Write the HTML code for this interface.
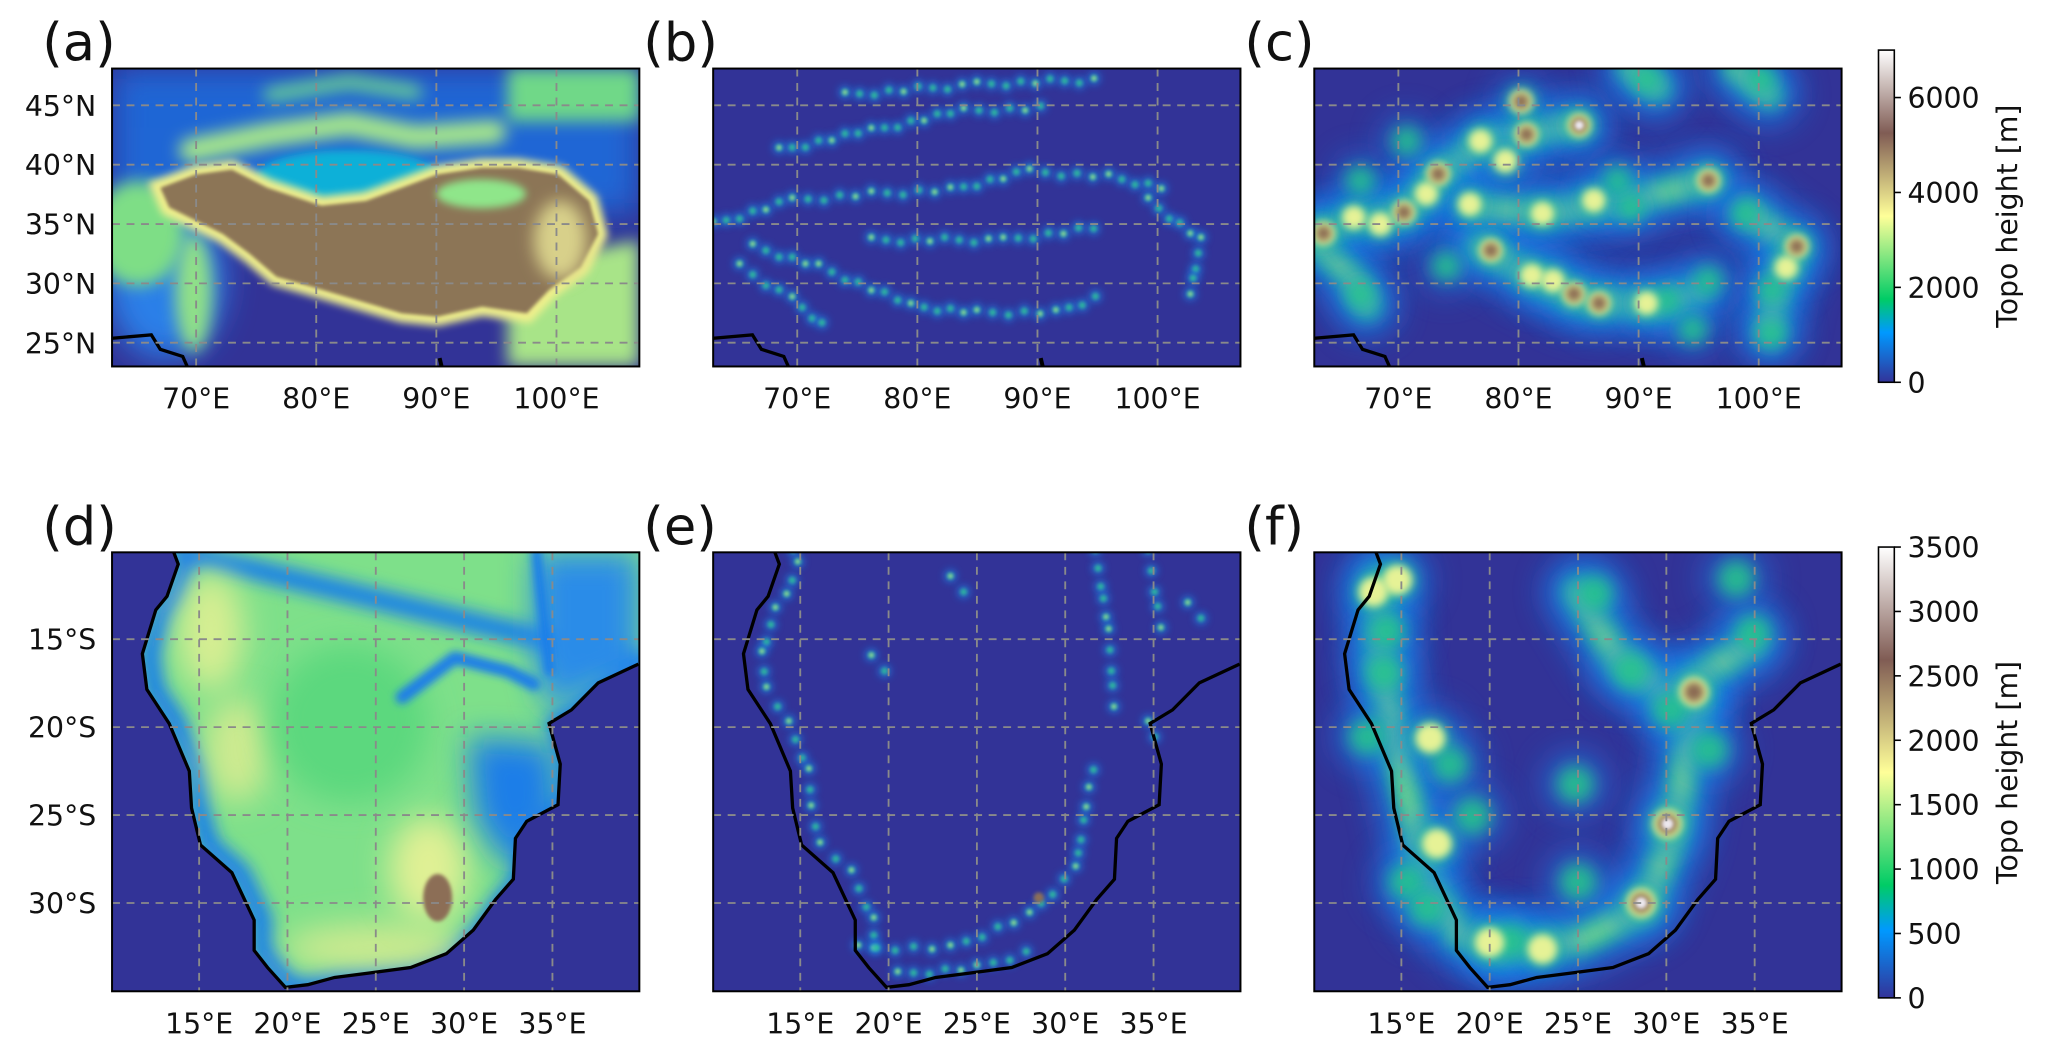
<!DOCTYPE html>
<html><head><meta charset="utf-8"><style>
html,body{margin:0;padding:0;background:#fff;width:2067px;height:1051px;overflow:hidden}
svg{display:block}
text{font-family:"DejaVu Sans","Liberation Sans",sans-serif;fill:#111}
</style></head><body>
<svg id="fig" width="2067" height="1051" viewBox="0 0 1568 797.3" preserveAspectRatio="none" xmlns="http://www.w3.org/2000/svg">
<defs>
<filter id="b1" filterUnits="userSpaceOnUse" x="-100" y="-100" width="600" height="550"><feGaussianBlur stdDeviation="1.5"/></filter>
<filter id="b3" filterUnits="userSpaceOnUse" x="-100" y="-100" width="600" height="550"><feGaussianBlur stdDeviation="3"/></filter>
<filter id="b6" filterUnits="userSpaceOnUse" x="-100" y="-100" width="600" height="550"><feGaussianBlur stdDeviation="6"/></filter>
<filter id="b12" filterUnits="userSpaceOnUse" x="-100" y="-100" width="600" height="550"><feGaussianBlur stdDeviation="12"/></filter>
<linearGradient id="terrain" x1="0" y1="1" x2="0" y2="0">
<stop offset="0" stop-color="#333399"/><stop offset="0.15" stop-color="#0099ff"/><stop offset="0.25" stop-color="#00cc66"/><stop offset="0.5" stop-color="#ffff99"/><stop offset="0.75" stop-color="#805c54"/><stop offset="1" stop-color="#ffffff"/>
</linearGradient>
<clipPath id="pc"><rect x="0" y="0" width="400" height="226"/></clipPath>
<clipPath id="pc2"><rect x="0" y="0" width="400" height="333"/></clipPath>
</defs>
<g id="root"></g>
</svg>
<script>
// ---- axis data ----
const row1LonTicks=[70,80,90,100];
const row1LonLabels=["70°E","80°E","90°E","100°E"];
const row1LatTicks=[45,40,35,30,25];
const row1LatLabels=["45°N","40°N","35°N","30°N","25°N"];
const row2LonTicks=[15,20,25,30,35];
const row2LonLabels=["15°E","20°E","25°E","30°E","35°E"];
const row2LatTicks=[-15,-20,-25,-30];
const row2LatLabels=["15°S","20°S","25°S","30°S"];
const cb1Ticks=[0,2000,4000,6000];
const cb2Ticks=[0,500,1000,1500,2000,2500,3000,3500];
const cb1Max=7000, cb2Max=3500;
const panelLabels=["(a)","(b)","(c)","(d)","(e)","(f)"];

const NS="http://www.w3.org/2000/svg";
const root=document.getElementById('root');
function mk(tag,attrs,parent){const e=document.createElementNS(NS,tag);for(const k in attrs)e.setAttribute(k,attrs[k]);(parent||root).appendChild(e);return e;}

const W=400,H1=226,H2=333;
const colX=[85,541,997];
const rowY=[52,419];
const r1={L:63,R:63+43.9,T:48.1,B:48.1-25.1};
const r2={L:10.07,R:10.07+29.85,T:-10.06,B:-10.06-24.96};
function xs(ax,lon){return (lon-ax.L)/(ax.R-ax.L)*W;}
function ys(ax,lat,h){return (ax.T-lat)/(ax.T-ax.B)*h;}

const OCEAN="#323397";
function pts(a){return a.map(p=>p.join(',')).join(' ');}

const plateau=[[63.7,80.3],[90.9,76.6],[118,90.4],[158.7,104],[192.6,100.4],[219.7,90.4],[246.8,80.3],[280.7,75.3],[307.8,75.3],[338.3,80.3],[362,100.4],[368.8,125.5],[355.3,150.6],[331.5,168],[314.6,185.7],[280.7,180.7],[246.8,188.3],[219.7,185.7],[185.8,175.7],[151.9,165.7],[124.8,158],[104.4,140.6],[84,125.5],[63.7,115.5],[43.4,105.4],[36.6,90.4]];
const asiaCoast=[[0,204.6],[29.8,202],[36.6,213],[53.6,218.4],[57,226]];
const asiaCoast2=[[248.5,219.6],[250,226]];
const afCoast=[[46.8,0],[50.2,9],[41.7,33.4],[33.2,43.7],[23,77],[26.4,104],[43.4,130],[58.6,166],[60.3,194],[67.1,222],[90.9,243],[107.8,279],[107.8,302],[118,315],[131.5,330],[148.5,328],[168.8,322.5],[196,319],[226.5,315],[253.6,304.5],[274,286.6],[290.9,263.4],[304.4,248],[306,217],[314.6,204],[338.3,191.5],[340,160.6],[335,142.6],[331.5,129.8],[348.5,119.5],[368.8,99],[399.3,84.8]];

function panel(i,row){
  const g=mk('g',{transform:`translate(${colX[i]},${rowY[row]})`});
  
  
  const h=row?H2:H1;
  const inner=mk('g',{'clip-path':row?'url(#pc2)':'url(#pc)'},g);
  mk('rect',{x:0,y:0,width:W,height:h,fill:OCEAN},inner);
  return {g,inner,h};
}
function blob(parent,x,y,r,col,f,op){mk('ellipse',{cx:x,cy:y,rx:r,ry:r,fill:col,filter:'url(#'+f+')',opacity:op==null?1:op},parent);}
function band(parent,line,w,col,f,op){mk('polyline',{points:pts(line),fill:'none',stroke:col,'stroke-width':w,'stroke-linecap':'round','stroke-linejoin':'round',filter:'url(#'+f+')',opacity:op==null?1:op},parent);}

function grid(p,ax,lonT,latT){
  const gg=mk('g',{},p.g);
  
  
  lonT.forEach(v=>{const x=xs(ax,v);mk('line',{x1:x,x2:x,y1:0,y2:p.h,stroke:'#8a8a8a','stroke-width':1.4,'stroke-dasharray':'6,5'},gg);});
  latT.forEach(v=>{const y=ys(ax,v,p.h);mk('line',{x1:0,x2:W,y1:y,y2:y,stroke:'#8a8a8a','stroke-width':1.4,'stroke-dasharray':'6,5'},gg);});
  mk('rect',{x:0,y:0,width:W,height:p.h,fill:'none',stroke:'#000','stroke-width':1.5},p.g);
}
function ticks(p,ax,lonT,lonL,latT,latL,showLat){
  lonT.forEach((v,k)=>{const t=mk('text',{x:xs(ax,v),y:p.h+32,'text-anchor':'middle','font-size':21.5},p.g);t.textContent=lonL[k];
    });
  if(showLat)latT.forEach((v,k)=>{const t=mk('text',{x:-12,y:ys(ax,v,p.h)+8,'text-anchor':'end','font-size':21.5},p.g);t.textContent=latL[k];
    });
}
function plabel(p,s){const t=mk('text',{x:-53,y:-6,'font-size':40},p.g);t.textContent=s;
  }

// ===== Panel (a) =====
let p=panel(0,0);let c=p.inner;
mk('rect',{x:0,y:0,width:400,height:110,fill:'#1f6fe0',filter:'url(#b12)',opacity:0.85},c);
mk('ellipse',{cx:40,cy:160,rx:45,ry:60,fill:'#2a7fe8',filter:'url(#b12)'},c);
mk('rect',{x:300,y:0,width:100,height:40,fill:'#6fd888',filter:'url(#b6)'},c);
band(c,[[60,62],[120,50],[180,42],[230,52],[290,48]],18,'#a8e88a','b6');
band(c,[[120,20],[180,10],[230,18]],10,'#70d890','b6');
mk('ellipse',{cx:179,cy:82,rx:70,ry:20,fill:'#10b0d8',filter:'url(#b3)'},c);
mk('ellipse',{cx:20,cy:125,rx:35,ry:40,fill:'#7ede86',filter:'url(#b6)'},c);
mk('ellipse',{cx:62,cy:170,rx:14,ry:45,fill:'#90e088',filter:'url(#b6)'},c);
mk('polygon',{points:'300,150 400,130 400,226 300,226',fill:'#a8e488',filter:'url(#b6)'},c);
mk('polygon',{points:pts(plateau),fill:'none',stroke:'#f0f08c','stroke-width':14,filter:'url(#b3)'},c);
mk('polygon',{points:pts(plateau),fill:'#8c7557',filter:'url(#b1)'},c);
mk('ellipse',{cx:280,cy:95,rx:34,ry:11,fill:'#8fe68a',filter:'url(#b3)'},c);
mk('ellipse',{cx:340,cy:130,rx:20,ry:30,fill:'#d8d08a',filter:'url(#b6)'},c);
mk('polyline',{points:pts(asiaCoast),fill:'none',stroke:'#000','stroke-width':2.5},c);
mk('polyline',{points:pts(asiaCoast2),fill:'none',stroke:'#000','stroke-width':3},c);
grid(p,r1,row1LonTicks,row1LatTicks);ticks(p,r1,row1LonTicks,row1LonLabels,row1LatTicks,row1LatLabels,true);plabel(p,panelLabels[0]);

// ===== Panel (b) =====
const bRidges=[
 [[30,135],[80,150],[150,180],[200,185],[260,185],[300,170]],
 [[0,118],[60,100],[120,95],[180,92],[240,78],[300,82],[350,92]],
 [[50,62],[120,47],[190,32],[260,30]],
 [[100,20],[200,12],[300,8]],
 [[330,100],[370,130],[360,180]],
 [[120,130],[220,130],[300,120]],
 [[20,150],[60,175],[90,200]]];
p=panel(1,0);c=p.inner;
function ridgeDots(parent,lines,step,r){lines.forEach(l=>{for(let k=0;k<l.length-1;k++){const[a,b]=[l[k],l[k+1]];const d=Math.hypot(b[0]-a[0],b[1]-a[1]);const n=Math.max(1,Math.round(d/step));for(let j=0;j<n;j++){const t=j/n;const x=a[0]+(b[0]-a[0])*t,y=a[1]+(b[1]-a[1])*t+((j*7)%5-2);
  blob(parent,x,y,r*1.8,'#1a8cf0','b3',0.7);blob(parent,x,y,r,'#30d090','b1',0.75);if(j%4==0)blob(parent,x,y,r*0.5,'#f0f090','b1',0.9);}}});}
ridgeDots(c,bRidges,11,2.6);
mk('polyline',{points:pts(asiaCoast),fill:'none',stroke:'#000','stroke-width':2.5},c);
mk('polyline',{points:pts(asiaCoast2),fill:'none',stroke:'#000','stroke-width':3},c);
grid(p,r1,row1LonTicks,row1LatTicks);ticks(p,r1,row1LonTicks,row1LonLabels,row1LatTicks,row1LatLabels,false);plabel(p,panelLabels[1]);

// ===== Panel (c) =====
const cBands=[
 [[0,125],[40,112],[70,108],[95,80],[130,55],[165,48],[200,42]],
 [[120,105],[175,110],[240,100],[300,85]],
 [[125,135],[165,157],[200,175],[260,180],[290,170]],
 [[330,110],[365,135],[350,170],[345,200]],
 [[0,130],[30,160],[40,180]],
 [[240,0],[260,15]],[[320,0],[345,20]]];
const cBlobs=[[7,125,3],[30,113,2],[68,109,3],[94,80,3],[118,103,2],[134,138,3],[157,25,3],[161,50,3],[126,55,2],[201,43,4],[197,171,3],[216,178,3],[252,178,2],[268,176,1],[173,110,2],[212,100,2],[240,105,1],[299,85,3],[366,135,3],[358,151,2],[347,168,1],[327,110,1],[252,8,1],[339,8,1],[35,85,1],[70,55,1],[35,171,1],[287,198,1],[347,201,1],[165,157,2],[181,161,2],[299,161,1],[100,150,1],[230,85,1],[145,70,2],[50,118,2],[85,95,2]];
p=panel(2,0);c=p.inner;
function drawBands(parent,arr,s){
 arr.forEach(l=>band(parent,l,46*s,'#1b7fe8','b12',0.8));
 arr.forEach(l=>band(parent,l,22*s,'#28c888','b6',0.85));
 arr.forEach(l=>band(parent,l,8*s,'#c8ec8e','b6',0.7));
}
function drawBlobs(parent,arr,s){
 arr.forEach(b=>{blob(parent,b[0],b[1],20*s,'#1b7fe8','b12',0.6);});
 arr.forEach(b=>{blob(parent,b[0],b[1],11*s,'#25c888','b6',0.85);});
 arr.forEach(b=>{if(b[2]>=2)blob(parent,b[0],b[1],9*s,'#e6f296','b3');});
 arr.forEach(b=>{if(b[2]>=3)blob(parent,b[0],b[1],6*s,'#8a6a52','b3');});
 arr.forEach(b=>{if(b[2]>=4)blob(parent,b[0],b[1],3.5*s,'#ece8ee','b1');});
}
drawBands(c,cBands,1);
drawBlobs(c,cBlobs,1);
mk('polyline',{points:pts(asiaCoast),fill:'none',stroke:'#000','stroke-width':2.5},c);
mk('polyline',{points:pts(asiaCoast2),fill:'none',stroke:'#000','stroke-width':3},c);
grid(p,r1,row1LonTicks,row1LatTicks);ticks(p,r1,row1LonTicks,row1LonLabels,row1LatTicks,row1LatLabels,false);plabel(p,panelLabels[2]);

// ===== Panel (d) =====
p=panel(0,1);c=p.inner;
const land=afCoast.concat([[400,84.8],[400,0]]);
const lg=mk('g',{},c);
mk('clipPath',{id:'landclip'},root).appendChild((()=>{const e=document.createElementNS(NS,'polygon');e.setAttribute('points',pts(land));return e;})());
lg.setAttribute('clip-path','url(#landclip)');
mk('rect',{x:0,y:0,width:400,height:333,fill:'#7ee08a'},lg);
mk('polygon',{points:pts(afCoast.map(q=>[q[0]+6,q[1]])),fill:'none',stroke:'#1a80e8','stroke-width':16,filter:'url(#b6)'},lg);
mk('ellipse',{cx:75,cy:60,rx:25,ry:45,fill:'#d6ee92',filter:'url(#b12)'},lg);
mk('ellipse',{cx:95,cy:150,rx:25,ry:40,fill:'#cdea90',filter:'url(#b12)'},lg);
mk('ellipse',{cx:200,cy:300,rx:70,ry:18,fill:'#cdea90',filter:'url(#b12)'},lg);
mk('ellipse',{cx:240,cy:240,rx:30,ry:40,fill:'#e0f094',filter:'url(#b12)'},lg);
mk('ellipse',{cx:180,cy:130,rx:60,ry:60,fill:'#5cd87e',filter:'url(#b12)'},lg);
mk('polygon',{points:'270,140 335,145 340,200 300,240 275,200',fill:'#1e7ee8',filter:'url(#b12)'},lg);
mk('polygon',{points:'320,0 400,0 400,90 330,120 320,80',fill:'#2a8ce8',filter:'url(#b12)'},lg);
band(lg,[[220,110],[260,80],[300,90],[320,100]],10,'#1e7ee8','b3');
band(lg,[[322,0],[332,90]],8,'#1e7ee8','b3');
mk('ellipse',{cx:247,cy:262,rx:11,ry:18,fill:'#8c6e56',filter:'url(#b1)'},lg);
mk('polyline',{points:pts(afCoast),fill:'none',stroke:'#000','stroke-width':2.5},c);
grid(p,r2,row2LonTicks,row2LatTicks);ticks(p,r2,row2LonTicks,row2LonLabels,row2LatTicks,row2LatLabels,true);plabel(p,panelLabels[3]);

// ===== Panel (e) =====
const eRidges=[
 afCoast.slice(0,14).map(q=>[q[0]+14,q[1]]),
 [[290,0],[300,60],[305,130]],[[330,0],[342,70]],[[360,40],[380,60]],
 [[110,300],[180,300],[240,275],[275,240],[285,180],[292,150]],
 [[140,320],[200,315],[250,300]],[[180,20],[200,40]],[[120,80],[140,100]],[[330,130],[340,150]]];
p=panel(1,1);c=p.inner;
ridgeDots(c,eRidges,13,2.6);
blob(c,247,262,4,'#8c6e56','b1');
mk('polyline',{points:pts(afCoast),fill:'none',stroke:'#000','stroke-width':2.5},c);
grid(p,r2,row2LonTicks,row2LatTicks);ticks(p,r2,row2LonTicks,row2LonLabels,row2LatTicks,row2LatLabels,false);plabel(p,panelLabels[4]);

// ===== Panel (f) =====
const fBands=[
 [[50,20],[50,80],[60,140],[75,200],[85,250],[110,290],[140,300]],
 [[140,300],[200,295],[250,270],[270,220],[280,170],[290,110]],
 [[200,30],[230,80],[270,110],[330,70]]];
const fBlobs=[[45,30,2],[55,60,1],[53,91,1],[63,21,2],[40,140,1],[88,141,2],[103,161,1],[93,221,2],[70,250,1],[85,270,1],[133,296,2],[173,301,2],[150,295,1],[198,176,1],[213,31,1],[288,106,3],[333,61,1],[268,206,4],[248,266,4],[270,120,1],[300,150,1],[240,90,1],[320,20,1],[120,200,1],[200,250,1]];
p=panel(2,1);c=p.inner;
drawBands(c,fBands,1.1);
drawBlobs(c,fBlobs,1.25);
mk('polyline',{points:pts(afCoast),fill:'none',stroke:'#000','stroke-width':2.5},c);
grid(p,r2,row2LonTicks,row2LatTicks);ticks(p,r2,row2LonTicks,row2LonLabels,row2LatTicks,row2LatLabels,false);plabel(p,panelLabels[5]);

// ===== Colorbars =====
function colorbar(x,y0,y1,max,tk,name){
 const g=mk('g',{});
 
 
 mk('rect',{x:x,y:y0,width:12,height:y1-y0,fill:'url(#terrain)',stroke:'#000','stroke-width':1.2},g);
 tk.forEach(v=>{const y=y1-(v/max)*(y1-y0);mk('line',{x1:x+12,x2:x+17,y1:y,y2:y,stroke:'#000','stroke-width':1.2},g);
  const t=mk('text',{x:x+22,y:y+8,'font-size':21.5},g);t.textContent=v;
  });
 const t=mk('text',{transform:`translate(${x+105},${(y0+y1)/2}) rotate(-90)`,'text-anchor':'middle','font-size':21.5},g);
 t.textContent='Topo height [m]';
 
}
colorbar(1425,38,290,cb1Max,cb1Ticks,'colorbar-top');
colorbar(1425,415,757,cb2Max,cb2Ticks,'colorbar-bottom');
</script>
</body></html>
